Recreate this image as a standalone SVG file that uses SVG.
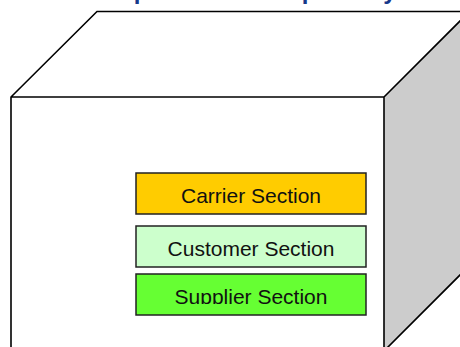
<svg xmlns="http://www.w3.org/2000/svg" width="460" height="347" viewBox="0 0 460 347">
<style>
.edge{fill:none;stroke:#000;stroke-width:1.6}
.box{stroke:#222;stroke-width:1.5}
.lbl{font-family:"Liberation Sans",Arial,sans-serif;font-size:21px;fill:#111;text-anchor:middle}
.title{font-family:"Liberation Sans",Arial,sans-serif;font-size:24px;font-weight:bold;fill:#17388A}
</style>
<defs>
<clipPath id="clipSup"><rect x="0" y="0" width="460" height="304"/></clipPath>
</defs>
<rect width="460" height="347" fill="#fff"/>
<text class="title" x="96.5" y="-1">Shipment Data Repository</text>
<g id="cube">
<polygon points="11,97 97,11.5 470,11.5 384,97" fill="#fff"/>
<polygon points="384,97 470,11 470,265 384,351" fill="#CCCCCC"/>
<rect x="11" y="97" width="373" height="260" fill="#fff"/>
<path class="edge" d="M11,357 V97 L97,11.5 H470 M11,97 H384 V357 M384,97 L470,11 M384,351 L470,265"/>
</g>
<g id="carrier">
<rect class="box" x="136" y="173" width="230" height="41" fill="#FFCC00"/>
<text class="lbl" x="251" y="203.3">Carrier Section</text>
</g>
<g id="customer">
<rect class="box" x="136" y="226" width="230" height="41" fill="#CCFFCC"/>
<text class="lbl" x="251" y="255.7">Customer Section</text>
</g>
<g id="supplier">
<rect class="box" x="136" y="274" width="230" height="41" fill="#66FF33"/>
<text class="lbl" x="251" y="304" clip-path="url(#clipSup)">Supplier Section</text>
</g>
<g id="connectors"></g>
</svg>
